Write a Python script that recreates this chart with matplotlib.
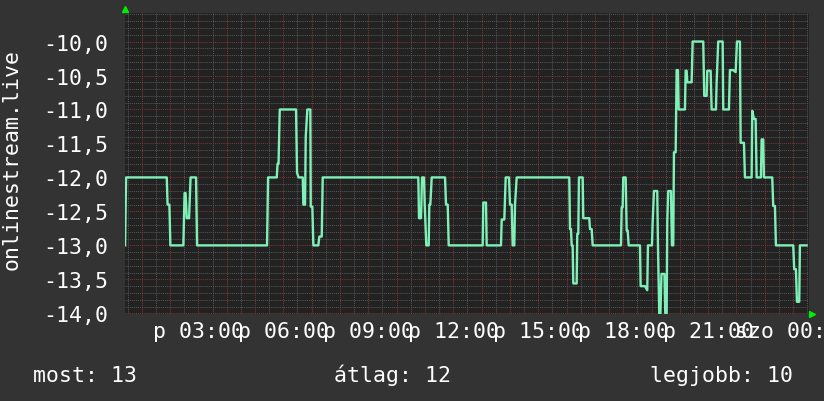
import numpy as np
import matplotlib
matplotlib.use("Agg")
import matplotlib.pyplot as plt
from matplotlib.ticker import MultipleLocator, FuncFormatter

# ido orakban (p 00:00 = 0), ertek
hours = [0.413, 0.448, 1.885, 1.913, 1.977, 2.012, 2.471, 2.513, 2.549, 2.591,
         2.672, 2.725, 2.919, 2.954, 5.425, 5.461, 5.768, 5.796, 5.831, 5.874,
         6.449, 6.484, 6.537, 6.686, 6.707, 6.767, 6.791, 6.848, 6.954, 6.968,
         7.024, 7.060, 7.236, 7.271, 7.356, 7.391, 10.766, 10.791, 10.861, 10.897,
         10.967, 10.992, 11.048, 11.133, 11.154, 11.190, 11.239, 11.709, 11.744, 11.804,
         11.839, 13.039, 13.060, 13.156, 13.180, 13.685, 13.710, 13.802, 13.851, 13.968,
         14.003, 14.063, 14.098, 14.155, 14.180, 14.239, 16.096, 16.121, 16.156, 16.181,
         16.216, 16.237, 16.357, 16.378, 16.414, 16.438, 16.569, 16.590, 16.802, 16.827,
         16.887, 16.922, 17.921, 17.946, 17.981, 18.002, 18.087, 18.122, 18.157, 18.193,
         18.592, 18.616, 18.768, 18.849, 18.874, 19.015, 19.040, 19.086, 19.202, 19.227,
         19.273, 19.315, 19.351, 19.457, 19.485, 19.534, 19.555, 19.590, 19.686, 19.721,
         19.767, 19.792, 19.852, 19.887, 19.933, 19.958, 20.180, 20.205, 20.240, 20.261,
         20.416, 20.452, 20.826, 20.861, 20.946, 20.967, 21.087, 21.122, 21.274, 21.299,
         21.355, 21.511, 21.532, 21.733, 21.768, 21.885, 21.970, 22.016, 22.121, 22.146,
         22.263, 22.298, 22.534, 22.556, 22.616, 22.676, 22.711, 22.863, 22.887, 22.944,
         22.968, 23.262, 23.297, 23.357, 23.392, 24.003, 24.038, 24.098, 24.134, 24.215,
         24.239, 24.476]
values = [-13.0, -12.0, -12.0, -12.4, -12.4, -13.0, -13.0, -12.23, -12.23, -12.6,
          -12.6, -12.0, -12.0, -13.0, -13.0, -12.0, -12.0, -11.8, -11.8, -11.0,
          -11.0, -11.93, -12.0, -12.0, -12.4, -12.4, -11.4, -11.0, -11.0, -12.43,
          -12.43, -13.0, -13.0, -12.87, -12.87, -12.0, -12.0, -12.6, -12.6, -12.0,
          -12.0, -12.4, -13.0, -13.0, -12.4, -12.4, -12.0, -12.0, -12.4, -12.4,
          -13.0, -13.0, -12.37, -12.37, -13.0, -13.0, -12.62, -12.62, -12.0, -12.0,
          -12.4, -12.4, -13.0, -13.0, -12.4, -12.0, -12.0, -12.76, -12.76, -13.0,
          -13.0, -13.56, -13.56, -12.83, -12.83, -12.0, -12.0, -12.6, -12.6, -12.76,
          -12.76, -13.0, -13.0, -12.44, -12.44, -12.0, -12.0, -12.78, -12.78, -13.0,
          -13.0, -13.6, -13.6, -13.66, -13.0, -13.0, -12.66, -12.2, -12.2, -13.0,
          -14.0, -14.0, -13.42, -13.42, -14.0, -14.0, -12.66, -12.2, -12.2, -13.0,
          -13.0, -11.63, -11.63, -10.42, -10.42, -11.0, -11.0, -10.43, -10.43, -10.6,
          -10.6, -10.0, -10.0, -10.8, -10.8, -10.43, -10.43, -11.0, -11.0, -10.6,
          -10.0, -10.0, -11.0, -11.0, -10.42, -10.42, -10.45, -10.0, -10.0, -11.49,
          -11.49, -12.0, -12.0, -11.02, -11.14, -11.14, -12.0, -12.0, -11.44, -11.44,
          -12.0, -12.0, -12.42, -12.42, -13.0, -13.0, -13.35, -13.35, -13.83, -13.83,
          -13.0, -13.0]

series_name = 'onlinestream.live'
legend_items = ['most: 13', 'átlag: 12', 'legjobb: 10']
day_names = ['p', 'szo']

plt.rcParams['font.family'] = ['DejaVu Sans Mono', 'DejaVu Sans']
fs = 15.5

fig = plt.figure(figsize=(8.24, 4.02), dpi=100, facecolor='#333333')
ax = fig.add_axes([0.1517, 0.2164, 0.8301, 0.7488], facecolor='#222222')

ax.set_xlim(0.41, 24.56)
ax.set_ylim(-14.01, -9.58)

ax.xaxis.set_major_locator(MultipleLocator(1))
ax.xaxis.set_minor_locator(MultipleLocator(0.5))
ax.yaxis.set_major_locator(MultipleLocator(0.5))
ax.yaxis.set_minor_locator(MultipleLocator(0.1))


def xfmt(h, pos):
    h = int(round(h))
    if h % 3 != 0:
        return ''
    return '%s %02d:00' % (day_names[h // 24], h % 24)


ax.xaxis.set_major_formatter(FuncFormatter(xfmt))
ax.yaxis.set_major_formatter(FuncFormatter(lambda v, p: ('%.1f' % v).replace('.', ',')))

ax.grid(which='minor', color='#555555', linestyle=(0, (1, 1)), linewidth=0.75)
ax.grid(which='major', color='#7a3535', linestyle=(0, (1, 1)), linewidth=0.75)
ax.set_axisbelow(True)

ax.tick_params(which='both', length=0, colors='white')
ax.tick_params(axis='y', labelsize=fs, pad=12)
ax.tick_params(axis='x', labelsize=fs, pad=5)
for s in ax.spines.values():
    s.set_visible(False)

ax.plot(hours, values, color='#7ff0b8', linewidth=1.7)

# zold nyilak
ax.plot([0], [1.012], marker='^', color='#00ee00', markersize=4, transform=ax.transAxes, clip_on=False)
ax.plot([1.004], [0.0], marker='>', color='#00ee00', markersize=4, transform=ax.transAxes, clip_on=False)

fig.text(12 / 824, 1 - 160 / 402, series_name, rotation=90, ha='center', va='center',
         color='white', fontsize=fs)
fig.text(33 / 824, 1 - 382 / 402, legend_items[0], color='white', fontsize=fs, va='baseline')
fig.text(334 / 824, 1 - 382 / 402, legend_items[1], color='white', fontsize=fs, va='baseline')
fig.text(650 / 824, 1 - 382 / 402, legend_items[2], color='white', fontsize=fs, va='baseline')

plt.savefig('out.png', dpi=100, facecolor=fig.get_facecolor())
